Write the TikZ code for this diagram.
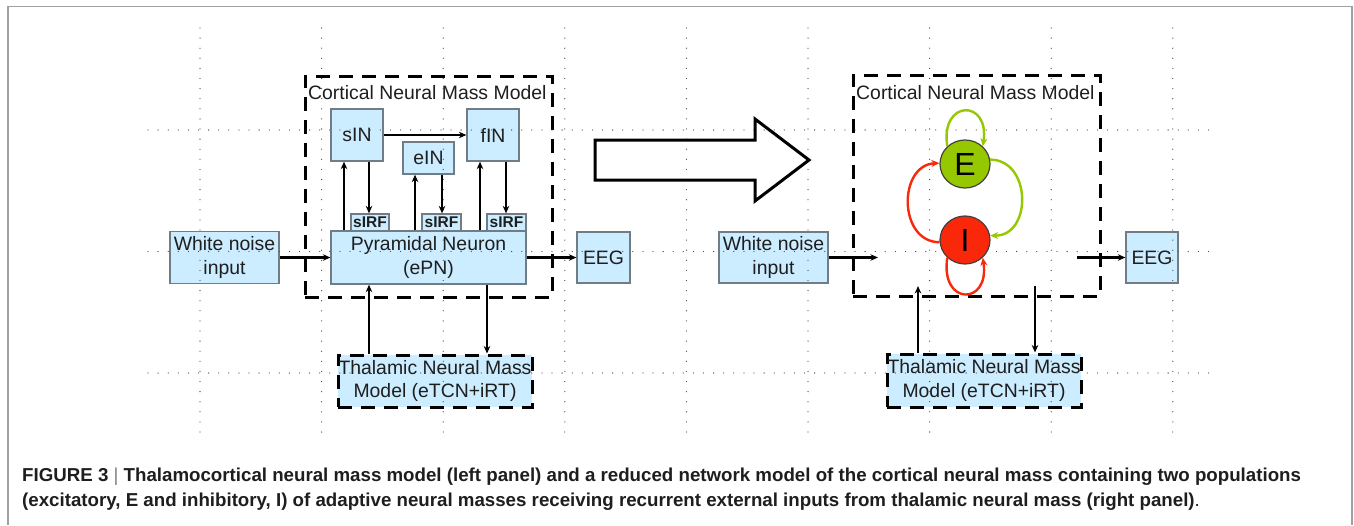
\documentclass[tikz,border=0pt]{standalone}
\usepackage{fontspec}
\setmainfont{Liberation Sans}
\usetikzlibrary{arrows.meta,shapes.geometric,calc}
\definecolor{boxfill}{RGB}{204,236,255}
\definecolor{boxline}{RGB}{112,125,135}
\definecolor{egreen}{RGB}{150,200,0}
\definecolor{ired}{RGB}{250,40,10}
\definecolor{gridc}{RGB}{80,80,80}
\definecolor{framec}{RGB}{160,160,160}
\definecolor{txt}{RGB}{30,30,30}
\begin{document}
\begin{tikzpicture}[x=1pt,y=-1pt,
  bx/.style={draw=boxline, fill=boxfill, line width=1.3pt, inner sep=0pt, align=center, text=txt, font=\fontsize{19.4}{23.5}\selectfont},
  smallbx/.style={bx, font=\fontsize{15.5}{17}\selectfont\bfseries},
  dbox/.style={draw=black, line width=3pt, dash pattern=on 14pt off 9pt},
  arr/.style={line width=2.2pt, -{Stealth[length=7.5pt,width=6.5pt]}},
  gridline/.style={gridc, line width=1.3pt, dash pattern=on 0pt off 10.1pt, line cap=round},
  pop/.style={ellipse, draw=black!75, line width=1.2pt, minimum width=50pt, minimum height=48pt, inner sep=0pt, font=\fontsize{32}{32}\selectfont},
  garr/.style={egreen, line width=2.4pt, -{Stealth[length=8pt,width=7pt]}},
  rarr/.style={ired, line width=2.4pt, -{Stealth[length=8pt,width=7pt]}},
  lbl/.style={inner sep=0pt, anchor=west, text=txt, font=\fontsize{19.4}{23}\selectfont},
  captxt/.style={anchor=base west, inner sep=0pt, font=\fontsize{18.7}{21}\selectfont\bfseries, text=txt}
]
\useasboundingbox (0,0) rectangle (1354,525);
\fill[white] (0,0) rectangle (1354,525);
% outer frame
\draw[framec, line width=1.5pt] (8,525) -- (8,6.5) -- (1352,6.5) -- (1352,525);

% ---------- left panel ----------
\node[dbox, minimum width=247pt, minimum height=221pt, inner sep=0pt] (cort1) at (428.5,186.5) {};
\node[lbl] (cort1lbl) at (308,93) {Cortical Neural Mass Model};
\node[bx, minimum width=52pt, minimum height=52pt] (sin) at (357,135) {sIN};
\node[bx, minimum width=52pt, minimum height=52pt] (fin) at (493,135) {fIN};
\node[bx, minimum width=51pt, minimum height=32pt] (ein) at (428.5,158) {eIN};
\node[bx, minimum width=195pt, minimum height=53pt] (pyr) at (428.5,257.5) {Pyramidal Neuron\\(ePN)};
\node[smallbx, minimum width=38pt, minimum height=17pt] (sirf1) at (370,222.5) {sIRF};
\node[smallbx, minimum width=39pt, minimum height=17pt] (sirf2) at (441.5,222.5) {sIRF};
\node[smallbx, minimum width=39pt, minimum height=17pt] (sirf3) at (506.5,222.5) {sIRF};
\node[bx, minimum width=109pt, minimum height=52pt] (wn1) at (224.5,257.5) {White noise\\input};
\node[bx, minimum width=53pt, minimum height=51pt] (eeg1) at (603.5,257.5) {EEG};
\node[bx, dbox, minimum width=194pt, minimum height=52pt] (thal1) at (435,381) {Thalamic Neural Mass\\Model (eTCN+iRT)};

% ---------- right panel ----------
\node[dbox, minimum width=247pt, minimum height=221pt, inner sep=0pt] (cort2) at (976.5,185.5) {};
\node[lbl] (cort2lbl) at (856,93) {Cortical Neural Mass Model};
\node[bx, minimum width=109pt, minimum height=51pt] (wn2) at (773.5,257.5) {White noise\\input};
\node[bx, minimum width=52pt, minimum height=51pt] (eeg2) at (1152,257.5) {EEG};
\node[bx, dbox, minimum width=194pt, minimum height=53pt] (thal2) at (984,380.5) {Thalamic Neural Mass\\Model (eTCN+iRT)};

% ---------- dotted grid ----------
\foreach \i in {0,...,8} {
  \draw[gridline] ({200+121.6*\i},28) -- ({200+121.6*\i},434);
}
\foreach \yy in {130,251.5,373} {
  \draw[gridline] (148,\yy) -- (1215,\yy);
}

% ---------- left connectors ----------
\coordinate (xa) at (344,0);
\coordinate (xb) at (369,0);
\coordinate (xc) at (415,0);
\coordinate (xd) at (442,0);
\coordinate (xe) at (480,0);
\coordinate (xf) at (506,0);
\coordinate (xg) at (487,0);
\draw[arr] (sin.east) -- (fin.west);
\draw[arr] (pyr.north -| xa) -- (sin.south -| xa);
\draw[arr] (sin.south -| xb) -- (sirf1.north -| xb);
\draw[arr] (pyr.north -| xc) -- (ein.south -| xc);
\draw[arr] (ein.south -| xd) -- (sirf2.north -| xd);
\draw[arr] (pyr.north -| xe) -- (fin.south -| xe);
\draw[arr] (fin.south -| xf) -- (sirf3.north -| xf);
\draw[arr] (wn1.east) -- (pyr.west);
\draw[arr] (pyr.east) -- (eeg1.west);
\draw[arr] (thal1.north -| xb) -- (pyr.south -| xb);
\draw[arr] (pyr.south -| xg) -- (thal1.north -| xg);

% ---------- big arrow ----------
\draw[line width=3pt, line join=miter] (595,140) -- (755,140) -- (755,119) -- (809,160) -- (755,201) -- (755,180) -- (595,180) -- cycle;

% ---------- right connectors ----------
\coordinate (wnend) at (878,257.5);
\coordinate (eegstart) at (1077,257.5);
\coordinate (thup) at (918,286);
\coordinate (thdn) at (1035,286);
\draw[arr] (wn2.east) -- (wnend);
\draw[arr] (eegstart) -- (eeg2.west);
\draw[arr] (thal2.north -| thup) -- (thup);
\draw[arr] (thdn) -- (thal2.north -| thdn);

\node[pop, fill=egreen] (E) at (965,164) {E};
\node[pop, fill=ired] (I) at (965,240) {I};
\draw[garr] (E.135) .. controls (940,99) and (990,99) .. (E.45);
\draw[garr] (E.10) .. controls (1032,160) and (1032,236) .. (I.10);
\draw[rarr] (I.185) .. controls (898,242) and (898,165) .. (E.178);
\draw[rarr] (I.225) .. controls (940,306) and (990,306) .. (I.315);

% ---------- caption ----------
\node[captxt] (cap1) at (22,481)
  {FIGURE 3 {\mdseries\color{gray}|} Thalamocortical neural mass model (left panel) and a reduced network model of the cortical neural mass containing two populations};
\node[captxt] (cap2) at (22,506.5)
  {(excitatory, E and inhibitory, I) of adaptive neural masses receiving recurrent external inputs from thalamic neural mass (right panel){\mdseries .}};
\end{tikzpicture}
\end{document}
